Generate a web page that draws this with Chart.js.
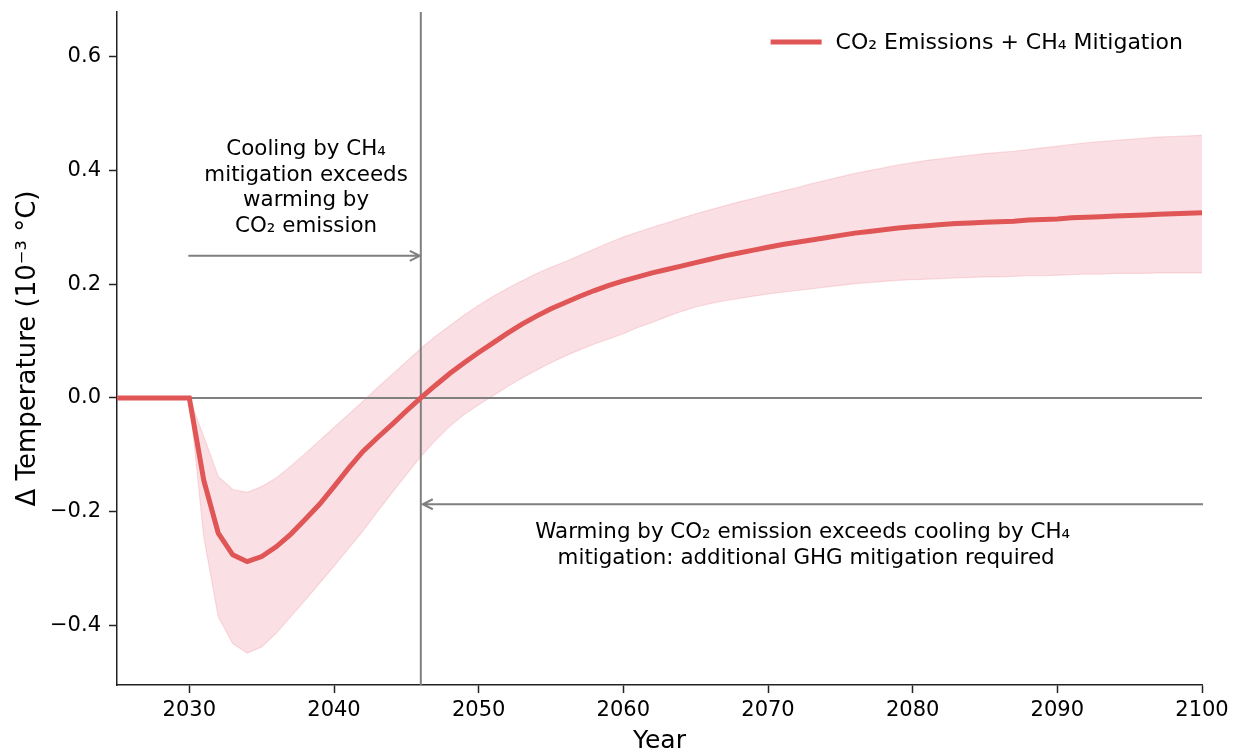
<!DOCTYPE html>
<html>
<head>
<meta charset="utf-8">
<script src="https://cdn.jsdelivr.net/npm/chart.js@4.4.0/dist/chart.umd.min.js"></script>
<style>
  html, body { margin: 0; padding: 0; background: #fff; }
  #wrap { width: 1239px; height: 753px; }
</style>
</head>
<body>
<div id="wrap"><canvas id="chart" width="1239" height="753"></canvas></div>
<script>
// x axis: one point per year
var years = [
    2025, 2026, 2027, 2028, 2029, 2030,
    2031, 2032, 2033, 2034, 2035, 2036, 2037, 2038, 2039, 2040,
    2041, 2042, 2043, 2044, 2045, 2046, 2047, 2048, 2049, 2050,
    2051, 2052, 2053, 2054, 2055, 2056, 2057, 2058, 2059, 2060,
    2061, 2062, 2063, 2064, 2065, 2066, 2067, 2068, 2069, 2070,
    2071, 2072, 2073, 2074, 2075, 2076, 2077, 2078, 2079, 2080,
    2081, 2082, 2083, 2084, 2085, 2086, 2087, 2088, 2089, 2090,
    2091, 2092, 2093, 2094, 2095, 2096, 2097, 2098, 2099, 2100
];

// delta temperature (10^-3 C), central estimate
var meanTemp = [
    0, 0, 0, 0, 0, 0,
    -0.145, -0.238, -0.276, -0.288, -0.279, -0.262, -0.240, -0.214, -0.187, -0.156,
    -0.124, -0.094, -0.070, -0.047, -0.023, 0.000, 0.022, 0.043, 0.062, 0.080,
    0.097, 0.114, 0.130, 0.144, 0.157, 0.168, 0.179, 0.189, 0.198, 0.206,
    0.213, 0.220, 0.226, 0.232, 0.238, 0.244, 0.250, 0.255, 0.260, 0.265,
    0.270, 0.274, 0.278, 0.282, 0.286, 0.290, 0.293, 0.296, 0.299, 0.301,
    0.303, 0.305, 0.307, 0.308, 0.309, 0.310, 0.311, 0.313, 0.314, 0.315,
    0.317, 0.318, 0.319, 0.320, 0.321, 0.322, 0.323, 0.324, 0.325, 0.326
];

// upper edge of the shaded range
var upperTemp = [
    0, 0, 0, 0, 0, 0,
    -0.068, -0.138, -0.161, -0.166, -0.156, -0.141, -0.120, -0.098, -0.075, -0.052,
    -0.029, -0.006, 0.018, 0.041, 0.064, 0.087, 0.108, 0.127, 0.146, 0.163,
    0.179, 0.193, 0.206, 0.219, 0.230, 0.240, 0.251, 0.262, 0.273, 0.283,
    0.292, 0.300, 0.308, 0.316, 0.324, 0.331, 0.338, 0.345, 0.351, 0.358,
    0.364, 0.370, 0.377, 0.383, 0.389, 0.395, 0.400, 0.405, 0.410, 0.414,
    0.418, 0.421, 0.424, 0.427, 0.430, 0.432, 0.434, 0.437, 0.440, 0.443,
    0.446, 0.449, 0.451, 0.453, 0.455, 0.457, 0.459, 0.460, 0.461, 0.462
];

// lower edge of the shaded range
var lowerTemp = [
    0, 0, 0, 0, 0, 0,
    -0.245, -0.385, -0.432, -0.449, -0.438, -0.414, -0.385, -0.356, -0.326, -0.296,
    -0.265, -0.234, -0.200, -0.167, -0.135, -0.103, -0.075, -0.050, -0.029, -0.012,
    0.004, 0.020, 0.035, 0.049, 0.062, 0.074, 0.085, 0.095, 0.104, 0.113,
    0.124, 0.133, 0.143, 0.152, 0.160, 0.166, 0.171, 0.175, 0.179, 0.183,
    0.186, 0.189, 0.192, 0.195, 0.198, 0.201, 0.203, 0.205, 0.207, 0.208,
    0.209, 0.210, 0.211, 0.212, 0.213, 0.213, 0.214, 0.215, 0.215, 0.216,
    0.217, 0.218, 0.218, 0.219, 0.219, 0.219, 0.220, 0.220, 0.220, 0.220
];

var xTicks = [2030, 2040, 2050, 2060, 2070, 2080, 2090, 2100];
var yTicks = [-0.4, -0.2, 0.0, 0.2, 0.4, 0.6];

var seriesLabel = 'CO\u2082 Emissions + CH\u2084 Mitigation';

// crossover year and the annotation texts
var crossYear = 2046;
var zeroLineFrom = 2030;
var leftNote = ['Cooling by CH\u2084', 'mitigation exceeds', 'warming by', 'CO\u2082 emission'];
var rightNote = ['Warming by CO\u2082 emission exceeds cooling by CH\u2084', ' mitigation: additional GHG mitigation required'];

function toPoints(vals) {
    return years.map(function(yr, i) { return { x: yr, y: vals[i] }; });
}

var lineRed = 'rgb(224, 85, 85)';
var gray = 'rgb(128, 128, 128)';
var FONT = "'DejaVu Sans', sans-serif";

Chart.defaults.font.family = FONT;
Chart.defaults.color = '#000';

function arrow(ctx, x0, x1, y) {
    var dir = x1 > x0 ? 1 : -1;
    ctx.beginPath();
    ctx.moveTo(x0, y);
    ctx.lineTo(x1, y);
    ctx.moveTo(x1 - dir * 10, y - 5);
    ctx.lineTo(x1, y);
    ctx.lineTo(x1 - dir * 10, y + 5);
    ctx.stroke();
}

var notesPlugin = {
    id: 'notes',
    beforeDatasetDraw: function(chart, args) {
        if (args.index !== 0) return;
        // gray reference lines, under the red curve
        var ctx = chart.ctx, xs = chart.scales.x, ys = chart.scales.y, area = chart.chartArea;
        ctx.save();
        ctx.strokeStyle = gray;
        ctx.lineWidth = 2;
        ctx.beginPath();
        ctx.moveTo(xs.getPixelForValue(zeroLineFrom), ys.getPixelForValue(0));
        ctx.lineTo(xs.getPixelForValue(2100), ys.getPixelForValue(0));
        var vx = xs.getPixelForValue(crossYear);
        ctx.moveTo(vx, area.top);
        ctx.lineTo(vx, area.bottom);
        ctx.stroke();
        ctx.restore();
    },
    afterDraw: function(chart) {
        var ctx = chart.ctx, xs = chart.scales.x, ys = chart.scales.y, area = chart.chartArea;
        ctx.save();
        ctx.strokeStyle = gray;
        ctx.lineWidth = 2;
        arrow(ctx, xs.getPixelForValue(2030) - 1, xs.getPixelForValue(crossYear) - 1, ys.getPixelForValue(0.25));
        arrow(ctx, xs.getPixelForValue(2100) + 1, xs.getPixelForValue(crossYear) + 2, ys.getPixelForValue(-0.187));

        ctx.fillStyle = '#000';
        ctx.font = '21.4px ' + FONT;
        ctx.textAlign = 'center';
        ctx.textBaseline = 'alphabetic';
        var lx = xs.getPixelForValue(2038.07);
        var ly = ys.getPixelForValue(0.427);
        leftNote.forEach(function(t, i) { ctx.fillText(t, lx, ly + i * 25.6); });
        var rx = xs.getPixelForValue(2072.4);
        var ry = ys.getPixelForValue(-0.246);
        rightNote.forEach(function(t, i) { ctx.fillText(t, rx, ry + i * 26); });

        // legend, inside the plot at top right
        ctx.font = '22px ' + FONT;
        ctx.textAlign = 'left';
        ctx.textBaseline = 'middle';
        var tw = ctx.measureText(seriesLabel).width;
        var tx = area.right - 19 - tw;
        var ty = area.top + 30;
        ctx.fillText(seriesLabel, tx, ty + 1);
        ctx.strokeStyle = lineRed;
        ctx.lineWidth = 5;
        ctx.beginPath();
        ctx.moveTo(tx - 65, ty);
        ctx.lineTo(tx - 14, ty);
        ctx.stroke();
        ctx.restore();
    }
};

var ctx = document.getElementById('chart').getContext('2d');

var chart = new Chart(ctx, {
    type: 'line',
    data: {
        datasets: [{
            label: seriesLabel,
            data: toPoints(meanTemp),
            borderColor: lineRed,
            backgroundColor: lineRed,
            borderWidth: 5,
            pointRadius: 0,
            fill: false,
            order: 0
        }, {
            label: 'upper',
            data: toPoints(upperTemp),
            borderColor: 'rgba(230, 120, 130, 0.22)',
            backgroundColor: 'rgba(228, 100, 120, 0.2)',
            borderWidth: 1.2,
            pointRadius: 0,
            fill: '+1',
            order: 2
        }, {
            label: 'lower',
            data: toPoints(lowerTemp),
            borderColor: 'rgba(230, 120, 130, 0.22)',
            borderWidth: 1.2,
            pointRadius: 0,
            fill: false,
            order: 2
        }]
    },
    options: {
        responsive: false,
        devicePixelRatio: 1,
        animation: false,
        layout: { padding: { left: 0, right: 37, top: 12, bottom: 0 } },
        plugins: {
            legend: { display: false },
            tooltip: { enabled: false }
        },
        scales: {
            x: {
                type: 'linear',
                min: 2025,
                max: 2100,
                afterBuildTicks: function(scale) {
                    scale.ticks = xTicks.map(function(v) { return { value: v }; });
                },
                afterFit: function(scale) {
                    scale.height = 68;
                    scale.paddingLeft = 0;
                    scale.paddingRight = 0;
                },
                ticks: {
                    font: { size: 21 },
                    color: '#000',
                    padding: 5,
                    maxRotation: 0,
                    callback: function(v) { return String(v); }
                },
                grid: {
                    drawOnChartArea: false,
                    drawTicks: true,
                    tickLength: 8,
                    tickColor: '#222',
                    tickWidth: 1.5
                },
                border: { display: true, color: '#222', width: 1.5 },
                title: {
                    display: true,
                    text: 'Year',
                    font: { size: 25, lineHeight: 1 },
                    color: '#000',
                    padding: { top: 0, bottom: -1 }
                }
            },
            y: {
                min: -0.505,
                max: 0.679,
                afterBuildTicks: function(scale) {
                    scale.ticks = yTicks.map(function(v) { return { value: v }; });
                },
                afterFit: function(scale) {
                    scale.width = 117;
                    scale.paddingTop = 0;
                    scale.paddingBottom = 0;
                },
                ticks: {
                    font: { size: 21 },
                    color: '#000',
                    padding: 8,
                    callback: function(v) { return v.toFixed(1).replace('-', '\u2212'); }
                },
                grid: {
                    drawOnChartArea: false,
                    drawTicks: true,
                    tickLength: 8,
                    tickColor: '#222',
                    tickWidth: 1.5
                },
                border: { display: true, color: '#222', width: 1.5 },
                title: {
                    display: true,
                    text: '\u0394 Temperature (10\u207B\u00B3 \u00B0C)',
                    font: { size: 26, lineHeight: 1 },
                    color: '#000',
                    padding: { top: 15, bottom: 0 }
                }
            }
        }
    },
    plugins: [notesPlugin]
});
</script>
</body>
</html>
